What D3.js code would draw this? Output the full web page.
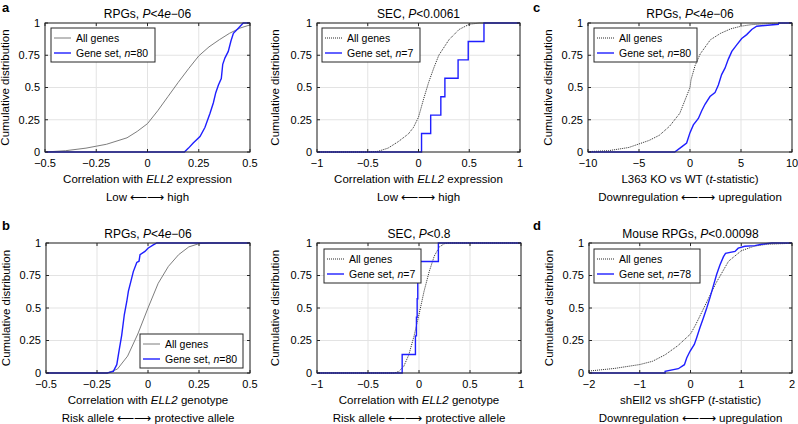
<!DOCTYPE html>
<html><head><meta charset="utf-8">
<script src="https://cdn.jsdelivr.net/npm/d3@7"></script>
<style>
body{margin:0;background:#fff;}
svg text{font-family:"Liberation Sans",Arial,Helvetica,sans-serif;fill:#000;}
</style></head>
<body>
<svg id="c" width="798" height="424"></svg>
<script>
// ---------- data ----------
const yTicks = [0, 0.25, 0.5, 0.75, 1];
const yTickLabels = ["0", "0.25", "0.5", "0.75", "1"];

const aTicks = [-0.5, -0.25, 0, 0.25, 0.5];
const aTickLabels = ["\u22120.5", "\u22120.25", "0", "0.25", "0.5"];
const aAll = [[-0.5,0],[-0.4,0.01],[-0.3,0.03],[-0.25,0.045],[-0.2,0.06],[-0.1,0.11],[-0.05,0.16],[0,0.22],[0.05,0.32],[0.1,0.43],[0.15,0.54],[0.2,0.645],[0.25,0.745],[0.3,0.815],[0.35,0.87],[0.4,0.92],[0.45,0.96],[0.5,0.985]];
const aSet = [[-0.5,0],[0.18,0],[0.2,0.03],[0.223,0.07],[0.256,0.12],[0.28,0.19],[0.305,0.3],[0.321,0.38],[0.333,0.46],[0.346,0.52],[0.36,0.57],[0.367,0.68],[0.378,0.73],[0.394,0.78],[0.407,0.86],[0.419,0.92],[0.443,0.96],[0.467,1],[0.5,1]];

const sec1Ticks = [-1, -0.5, 0, 0.5, 1];
const sec1TickLabels = ["\u22121", "\u22120.5", "0", "0.5", "1"];
const sec1All = [[-1,0],[-0.5,0],[-0.4,0.005],[-0.3,0.03],[-0.2,0.08],[-0.1,0.14],[-0.05,0.19],[0,0.27],[0.05,0.41],[0.1,0.54],[0.15,0.65],[0.2,0.75],[0.3,0.87],[0.4,0.95],[0.5,0.99],[0.6,1],[1,1]];
const sec1Set = [0.03, 0.12, 0.22, 0.26, 0.39, 0.49, 0.645];

const cTicks = [-10, -5, 0, 5, 10];
const cTickLabels = ["\u221210", "\u22125", "0", "5", "10"];
const cAll = [[-10,0.003],[-8,0.01],[-6,0.035],[-4,0.09],[-3,0.13],[-2,0.2],[-1,0.3],[-0.5,0.4],[0,0.5],[0.1,0.56],[0.5,0.67],[1,0.76],[2,0.87],[3,0.92],[4,0.955],[5,0.975],[6,0.987],[8,0.997],[10,1]];
const cSet = [[-10,0],[-1.5,0],[-0.82,0.04],[-0.33,0.07],[0,0.15],[0.33,0.21],[0.82,0.26],[1.15,0.32],[1.47,0.37],[1.96,0.43],[2.45,0.46],[2.78,0.52],[3.1,0.6],[3.43,0.65],[3.76,0.72],[4.1,0.78],[4.58,0.83],[5.07,0.88],[5.56,0.91],[6.05,0.95],[6.54,0.975],[8.66,0.99],[8.7,1],[10,1]];

const bTicks = [-0.5, -0.25, 0, 0.25, 0.5];
const bTickLabels = ["\u22120.5", "\u22120.25", "0", "0.25", "0.5"];
const bAll = [[-0.5,0],[-0.2,0],[-0.15,0.03],[-0.1,0.13],[-0.05,0.3],[0,0.5],[0.05,0.69],[0.1,0.82],[0.15,0.91],[0.2,0.97],[0.25,0.995],[0.3,1],[0.5,1]];
const bSet = [[-0.5,0],[-0.2,0],[-0.17,0.013],[-0.153,0.064],[-0.142,0.17],[-0.129,0.29],[-0.116,0.45],[-0.104,0.55],[-0.096,0.63],[-0.083,0.71],[-0.072,0.78],[-0.055,0.85],[-0.044,0.86],[-0.039,0.91],[-0.015,0.935],[0,0.96],[0.026,0.985],[0.043,1],[0.5,1]];

const sec2Ticks = [-1, -0.5, 0, 0.5, 1];
const sec2TickLabels = ["\u22121", "\u22120.5", "0", "0.5", "1"];
const sec2All = [[-1,0],[-0.25,0],[-0.2,0.01],[-0.15,0.05],[-0.1,0.14],[-0.05,0.28],[0,0.45],[0.05,0.63],[0.1,0.78],[0.15,0.9],[0.2,0.97],[0.25,0.995],[0.3,1],[1,1]];
const sec2Set = [-0.165, -0.035, -0.025, -0.018, -0.012, -0.006, 0.19];

const dTicks = [-2, -1, 0, 1, 2];
const dTickLabels = ["\u22122", "\u22121", "0", "1", "2"];
const dAll = [[-2,0.015],[-1.5,0.035],[-1,0.065],[-0.75,0.09],[-0.5,0.14],[-0.25,0.21],[0,0.3],[0.1,0.37],[0.25,0.49],[0.5,0.69],[0.75,0.86],[1,0.94],[1.25,0.975],[1.5,0.99],[2,0.998]];
const dSet = [[-2,0],[-0.5,0],[-0.5,0.013],[-0.24,0.033],[-0.12,0.064],[-0.075,0.115],[-0.01,0.167],[0.075,0.22],[0.12,0.27],[0.187,0.35],[0.25,0.42],[0.32,0.5],[0.384,0.58],[0.45,0.67],[0.516,0.76],[0.58,0.83],[0.65,0.895],[0.69,0.92],[0.877,0.935],[0.94,0.96],[1.07,0.975],[1.27,0.98],[1.4,0.99],[1.6,1],[2,1]];

// ---------- drawing ----------
const svg = d3.select("#c");

function stepPoints(vals, xmin, xmax){
  const n = vals.length;
  const pts = [[xmin,0]];
  vals.forEach((v,i)=>pts.push([v,(i+1)/n]));
  pts.push([xmax,1]);
  return pts;
}

function richText(sel, parts){
  parts.forEach(p=>{
    const t = sel.append("tspan").text(p[0]);
    if(p[1]) t.attr("font-style","italic");
  });
}

let clipId = 0;
function panel(cfg){
  const g = svg.append("g");
  const x = d3.scaleLinear().domain(cfg.xdom).range([cfg.l, cfg.r]);
  const y = d3.scaleLinear().domain([0,1]).range([cfg.b, cfg.t]);
  // grid
  g.selectAll(".gx").data(cfg.xt).enter().append("line")
    .attr("x1",d=>x(d)).attr("x2",d=>x(d)).attr("y1",cfg.t).attr("y2",cfg.b)
    .attr("stroke","#e3e3e3").attr("stroke-width",1);
  g.selectAll(".gy").data(yTicks).enter().append("line")
    .attr("y1",d=>y(d)).attr("y2",d=>y(d)).attr("x1",cfg.l).attr("x2",cfg.r)
    .attr("stroke","#e3e3e3").attr("stroke-width",1);
  // clip
  const cid = "clip"+(clipId++);
  svg.append("clipPath").attr("id",cid).append("rect")
    .attr("x",cfg.l).attr("y",cfg.t-1).attr("width",cfg.r-cfg.l).attr("height",cfg.b-cfg.t+2);
  const line = d3.line().x(d=>x(d[0])).y(d=>y(d[1]));
  const cg = g.append("g").attr("clip-path",`url(#${cid})`);
  const allPath = cg.append("path").datum(cfg.all).attr("d",line).attr("fill","none");
  if(cfg.allSolid){
    allPath.attr("stroke","#6e6e6e").attr("stroke-width",0.9);
  } else {
    allPath.attr("stroke","#111").attr("stroke-width",0.9).attr("stroke-dasharray","1,1");
  }
  const setLine = cfg.step ? d3.line().x(d=>x(d[0])).y(d=>y(d[1])).curve(d3.curveStepAfter) : line;
  cg.append("path").datum(cfg.set).attr("d",setLine).attr("fill","none")
    .attr("stroke","#1f1fff").attr("stroke-width",1.4);
  // frame
  g.append("rect").attr("x",cfg.l).attr("y",cfg.t).attr("width",cfg.r-cfg.l).attr("height",cfg.b-cfg.t)
    .attr("fill","none").attr("stroke","#262626").attr("stroke-width",1);
  // inward ticks
  const tl = 3;
  cfg.xt.forEach(d=>{
    g.append("line").attr("x1",x(d)).attr("x2",x(d)).attr("y1",cfg.b).attr("y2",cfg.b-tl).attr("stroke","#262626");
    g.append("line").attr("x1",x(d)).attr("x2",x(d)).attr("y1",cfg.t).attr("y2",cfg.t+tl).attr("stroke","#262626");
  });
  yTicks.forEach(d=>{
    g.append("line").attr("y1",y(d)).attr("y2",y(d)).attr("x1",cfg.l).attr("x2",cfg.l+tl).attr("stroke","#262626");
    g.append("line").attr("y1",y(d)).attr("y2",y(d)).attr("x1",cfg.r).attr("x2",cfg.r-tl).attr("stroke","#262626");
  });
  // tick labels
  g.selectAll(".xl").data(cfg.xt).enter().append("text")
    .attr("x",d=>x(d)).attr("y",cfg.b+15).attr("text-anchor","middle").attr("font-size",11)
    .text((d,i)=>cfg.xtl[i]);
  g.selectAll(".yl").data(yTicks).enter().append("text")
    .attr("x",cfg.l-5).attr("y",d=>y(d)).attr("dy","0.35em").attr("text-anchor","end").attr("font-size",11)
    .text((d,i)=>yTickLabels[i]);
  // title
  const tt = g.append("text").attr("x",(cfg.l+cfg.r)/2).attr("y",cfg.t-5).attr("text-anchor","middle").attr("font-size",12);
  richText(tt, cfg.title);
  // x title
  const xt = g.append("text").attr("x",(cfg.l+cfg.r)/2).attr("y",cfg.b+31).attr("text-anchor","middle").attr("font-size",11.5);
  richText(xt, cfg.xlabel);
  g.append("text").attr("x",(cfg.l+cfg.r)/2).attr("y",cfg.b+49).attr("text-anchor","middle").attr("font-size",11.5)
    .text(cfg.arrow);
  // y title
  g.append("text").attr("transform",`translate(${cfg.l-cfg.yoff},${(cfg.t+cfg.b)/2}) rotate(-90)`)
    .attr("text-anchor","middle").attr("font-size",11.5).text("Cumulative distribution");
  // legend
  const L = cfg.leg;
  const lg = g.append("g");
  lg.append("rect").attr("x",L[0]).attr("y",L[1]).attr("width",L[2]).attr("height",L[3])
    .attr("fill","#fff").attr("stroke","#262626").attr("stroke-width",1);
  const r1 = L[1]+10, r2 = L[1]+25;
  const l1 = lg.append("line").attr("x1",L[0]+3).attr("x2",L[0]+20).attr("y1",r1).attr("y2",r1);
  if(cfg.allSolid) l1.attr("stroke","#6e6e6e").attr("stroke-width",0.9);
  else l1.attr("stroke","#111").attr("stroke-width",0.9).attr("stroke-dasharray","1,1");
  lg.append("line").attr("x1",L[0]+3).attr("x2",L[0]+20).attr("y1",r2).attr("y2",r2)
    .attr("stroke","#1f1fff").attr("stroke-width",1.4);
  lg.append("text").attr("x",L[0]+25).attr("y",r1).attr("dy","0.35em").attr("font-size",10.5).text("All genes");
  const lt = lg.append("text").attr("x",L[0]+25).attr("y",r2).attr("dy","0.35em").attr("font-size",10.5);
  richText(lt, [["Gene set, "],["n",1],["="+cfg.n]]);
  // panel letter
  if(cfg.letter){
    svg.append("text").attr("x",cfg.letter[1]).attr("y",cfg.letter[2]).attr("font-size",13)
      .attr("font-weight","bold").text(cfg.letter[0]);
  }
}

const arrowLH = "Low \u27F5\u27F6 high";
const arrowRP = "Risk allele \u27F5\u27F6 protective allele";
const arrowDU = "Downregulation \u27F5\u27F6 upregulation";

panel({l:45,r:250,t:23,b:152,xdom:[-0.5,0.5],xt:aTicks,xtl:aTickLabels,all:aAll,set:aSet,allSolid:true,
  title:[["RPGs, "],["P",1],["<4"],["e",1],["\u221206"]],
  xlabel:[["Correlation with "],["ELL2",1],[" expression"]],arrow:arrowLH,yoff:36,
  leg:[51,28,104,34],n:80,letter:["a",2,12]});
panel({l:317,r:520,t:23,b:152,xdom:[-1,1],xt:sec1Ticks,xtl:sec1TickLabels,all:sec1All,set:stepPoints(sec1Set,-1,1),step:true,
  title:[["SEC, "],["P",1],["<0.0061"]],
  xlabel:[["Correlation with "],["ELL2",1],[" expression"]],arrow:arrowLH,yoff:38,
  leg:[322,28,98,34],n:7});
panel({l:588,r:792,t:23,b:152,xdom:[-10,10],xt:cTicks,xtl:cTickLabels,all:cAll,set:cSet,
  title:[["RPGs, "],["P",1],["<4"],["e",1],["\u221206"]],
  xlabel:[["L363 KO vs WT ("],["t",1],["-statistic)"]],arrow:arrowDU,yoff:36,
  leg:[594,28,103,34],n:80,letter:["c",533,12]});
panel({l:46,r:250,t:243,b:373,xdom:[-0.5,0.5],xt:bTicks,xtl:bTickLabels,all:bAll,set:bSet,allSolid:true,
  title:[["RPGs, "],["P",1],["<4"],["e",1],["\u221206"]],
  xlabel:[["Correlation with "],["ELL2",1],[" genotype"]],arrow:arrowRP,yoff:36,
  leg:[140,334,103,34],n:80,letter:["b",2,230]});
panel({l:317,r:521,t:243,b:373,xdom:[-1,1],xt:sec2Ticks,xtl:sec2TickLabels,all:sec2All,set:stepPoints(sec2Set,-1,1),step:true,
  title:[["SEC, "],["P",1],["<0.8"]],
  xlabel:[["Correlation with "],["ELL2",1],[" genotype"]],arrow:arrowRP,yoff:38,
  leg:[324,249,97,34],n:7});
panel({l:589,r:792,t:243,b:373,xdom:[-2,2],xt:dTicks,xtl:dTickLabels,all:dAll,set:dSet,
  title:[["Mouse RPGs, "],["P",1],["<0.00098"]],
  xlabel:[["shEll2 vs shGFP ("],["t",1],["-statistic)"]],arrow:arrowDU,yoff:36,
  leg:[594,249,106,34],n:78,letter:["d",533,230]});
</script>
</body></html>
